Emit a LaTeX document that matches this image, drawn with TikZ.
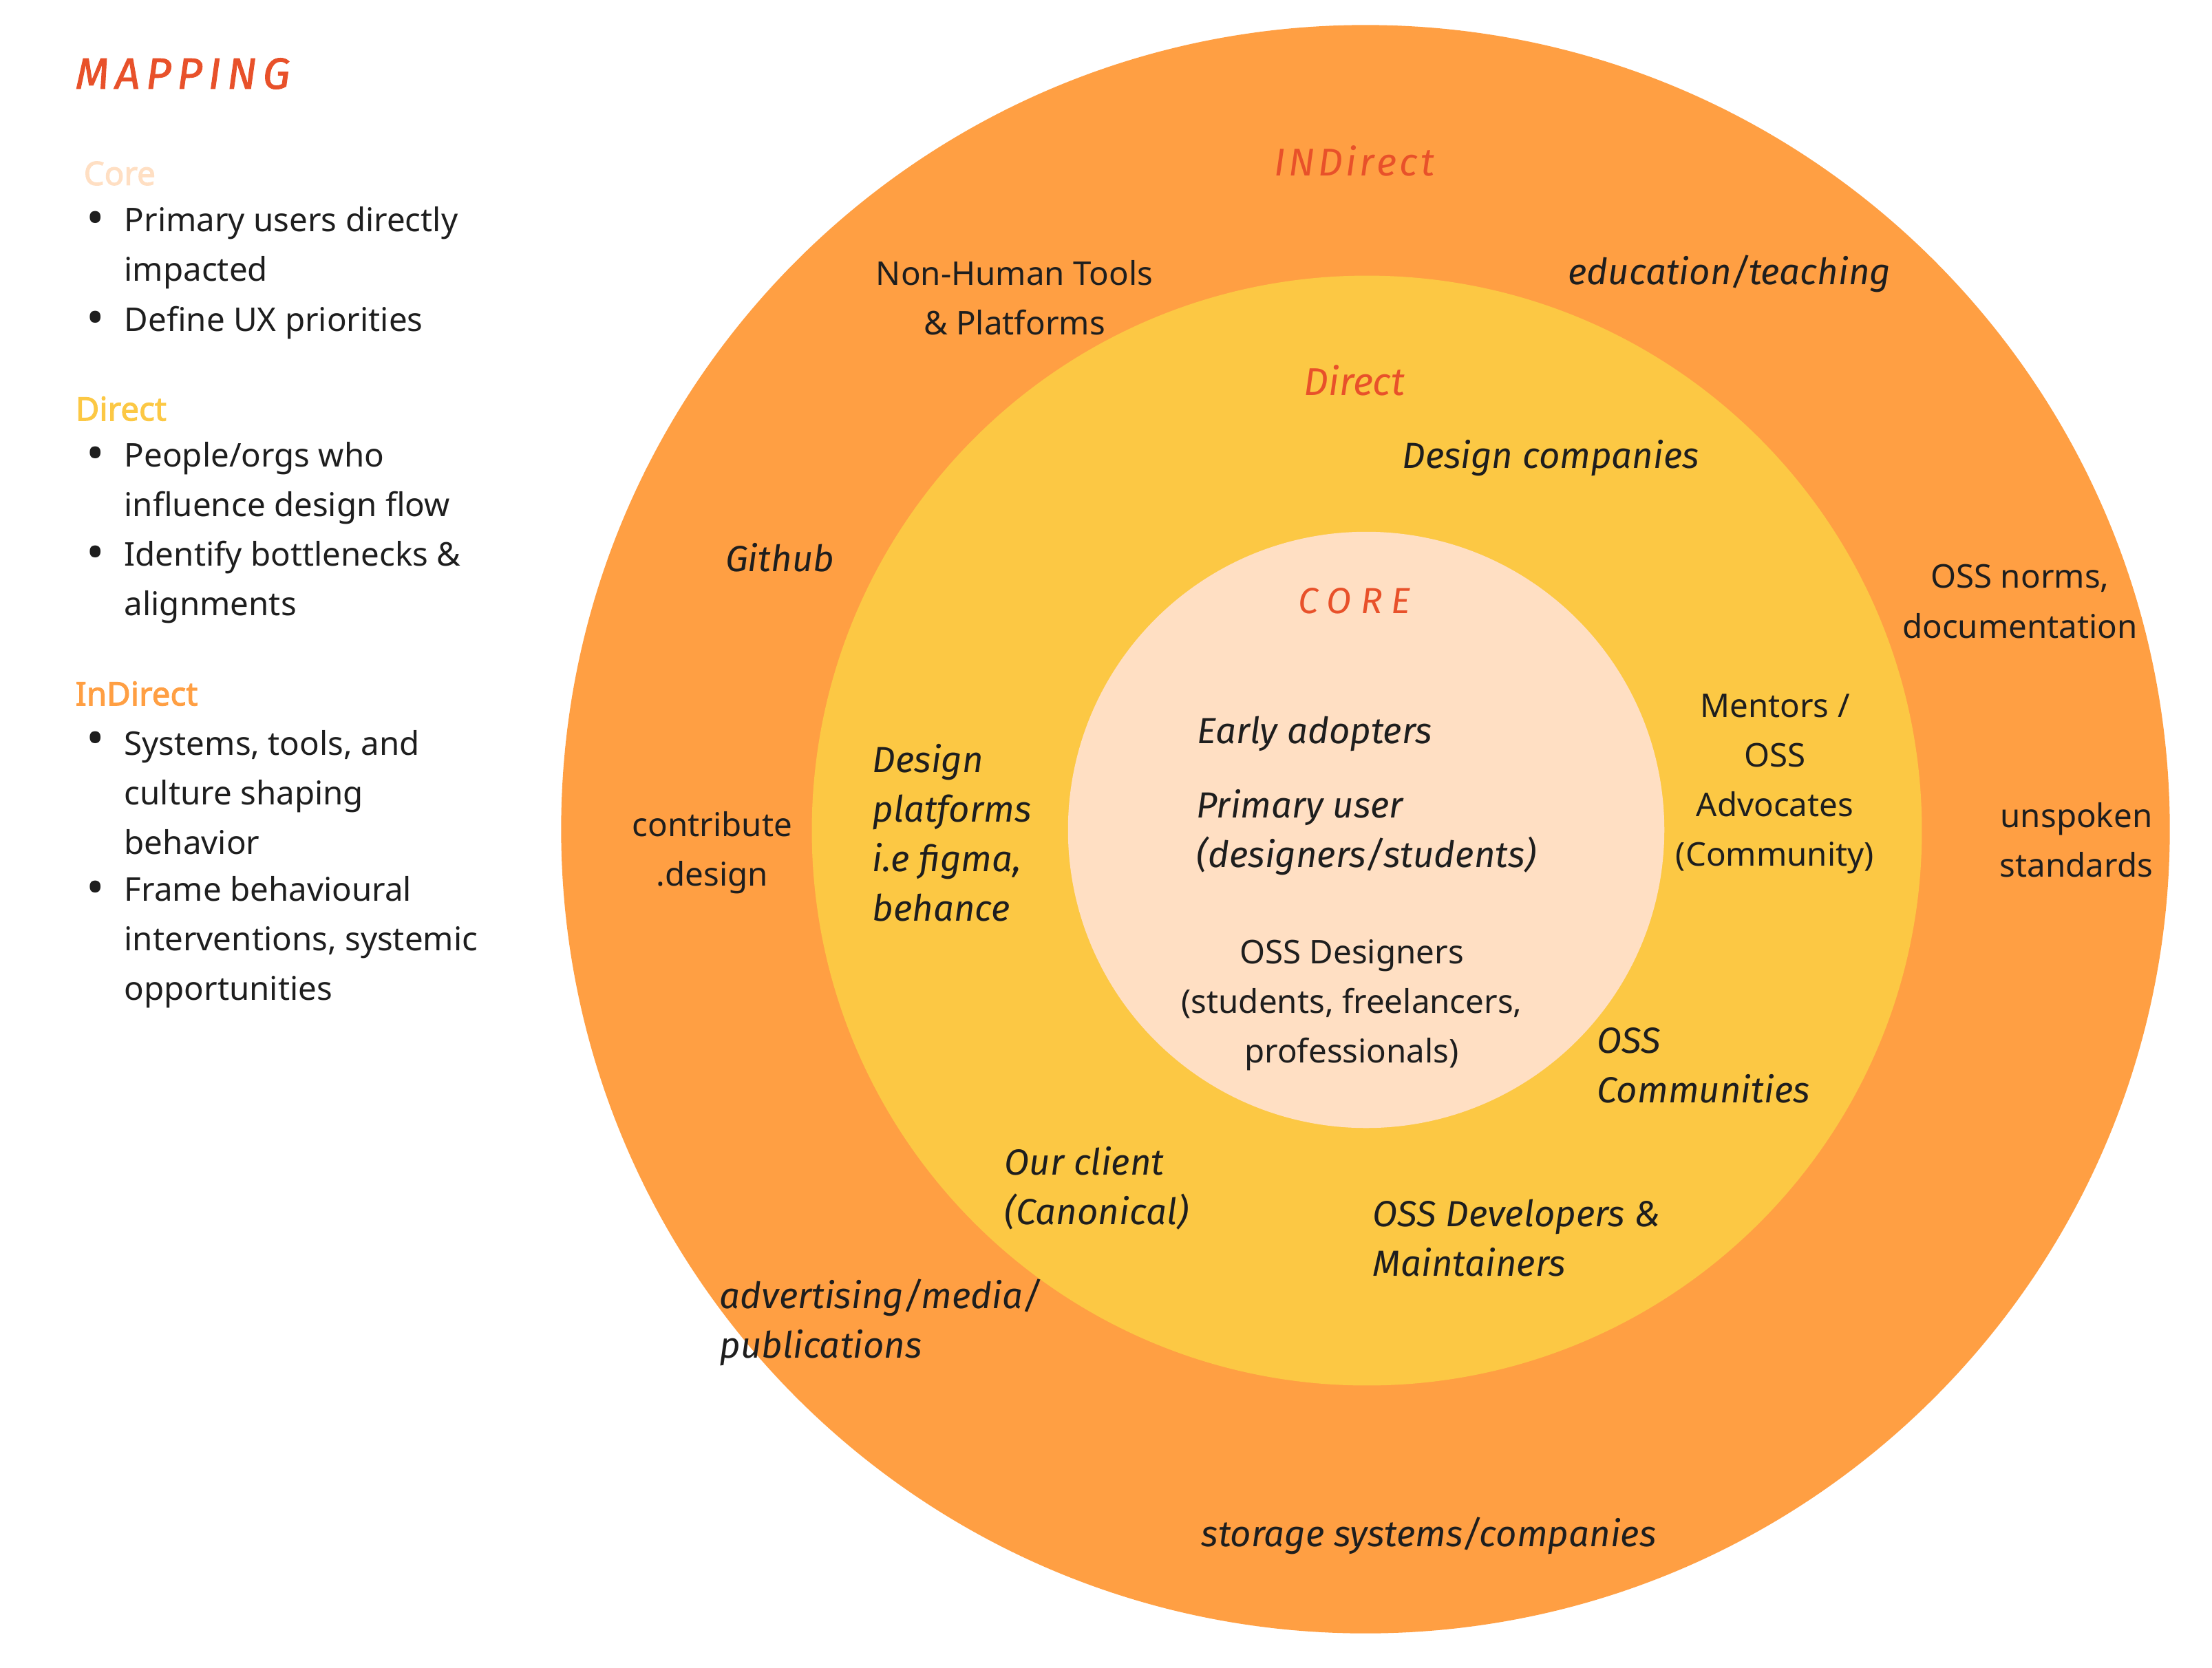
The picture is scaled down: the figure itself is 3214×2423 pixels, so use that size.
\documentclass[tikz,border=0pt]{standalone}
\usepackage{fontspec}
\setmainfont{Noto Sans}
\newfontfamily\headfont{Noto Sans}[FakeBold=2.2]
\newfontfamily\handfont{Fira Sans}
\newfontfamily\titlefont{Fira Sans}[FakeBold=1.5, LetterSpace=14]
\definecolor{outerc}{HTML}{FF9F43}
\definecolor{midc}{HTML}{FCC844}
\definecolor{corec}{HTML}{FFDFC3}
\definecolor{redc}{HTML}{E8512A}
\definecolor{ink}{HTML}{1E1E1E}
\begin{document}
\begin{tikzpicture}[x=0.01cm,y=-0.01cm,
  body/.style={font=\fontsize{13.5}{20.5}\selectfont, text=ink, inner sep=0pt},
  head/.style={font=\headfont\fontsize{13.5}{20.5}\selectfont, inner sep=0pt, anchor=west},
  dot/.style={font=\fontsize{20}{20.5}\selectfont, text=ink, inner sep=0pt},
  hw/.style={font=\handfont\itshape\fontsize{15}{20.5}\selectfont, text=ink, inner sep=0pt},
  redhw/.style={font=\handfont\itshape\fontsize{16}{20}\selectfont, text=redc, inner sep=0pt}]
\useasboundingbox[fill=white] (0,0) rectangle (3214,2423);
% rings
\fill[outerc] (1984,1205) circle[radius=11.68cm];
\fill[midc] (1986,1207) circle[radius=8.06cm];
\fill[corec] (1985,1206) circle[radius=4.33cm];
% legend
\node[font=\titlefont\itshape\fontsize{18}{20}\selectfont, text=redc, inner sep=0pt, anchor=west] (title) at (109,107) {MAPPING};
\node[head, text=corec] (hcore) at (121,252) {Core};
\node[dot] (b1) at (139,324) {\textbullet};
\node[body, anchor=west, align=left] (t1) at (180,360) {Primary users directly\\impacted};
\node[dot] (b2) at (139,469) {\textbullet};
\node[body, anchor=west, align=left] (t2) at (180,469) {Define UX priorities};
\node[head, text=midc] (hdirect) at (109,594) {Direct};
\node[dot] (b3) at (139,666) {\textbullet};
\node[body, anchor=west, align=left] (t3) at (180,702) {People/orgs who\\influence design flow};
\node[dot] (b4) at (139,810) {\textbullet};
\node[body, anchor=west, align=left] (t4) at (180,846) {Identify bottlenecks \&\\alignments};
\node[head, text=outerc] (hind) at (109,1008) {InDirect};
\node[dot] (b5) at (139,1080) {\textbullet};
\node[body, anchor=west, align=left] (t5) at (180,1152) {Systems, tools, and\\culture shaping\\behavior};
\node[dot] (b6) at (139,1297) {\textbullet};
\node[body, anchor=west, align=left] (t6) at (180,1369) {Frame behavioural\\interventions, systemic\\opportunities};
% ring titles
\node[redhw, font=\handfont\itshape\fontsize{16}{20}\selectfont\addfontfeatures{LetterSpace=8}] (lind) at (1968,234) {INDirect};
\node[redhw] (ldir) at (1968,553) {Direct};
\node[redhw, font=\handfont\itshape\fontsize{15}{20}\selectfont\addfontfeatures{LetterSpace=25}] (lcore) at (1968,873) {CORE};
% indirect ring labels
\node[body, align=center] (nonhuman) at (1474,433) {Non-Human Tools\\\& Platforms};
\node[hw] (edu) at (2513,398) {education/teaching};
\node[hw] (github) at (1133,810) {Github};
\node[body, align=center] (norms) at (2935,874) {OSS norms,\\documentation};
\node[body, align=center] (unspoken) at (3017,1221) {unspoken\\standards};
\node[body, align=center] (contrib) at (1035,1239) {contribute\\.design};
\node[hw, anchor=west, align=left] (advert) at (1045,1922) {advertising/media/\\publications};
\node[hw] (storage) at (2076,2232) {storage systems/companies};
% direct ring labels
\node[hw] (designco) at (2253,666) {Design companies};
\node[hw, anchor=west, align=left] (platforms) at (1267,1210) {Design\\platforms\\i.e figma,\\behance};
\node[body, align=center] (mentors) at (2579,1139) {Mentors /\\OSS\\Advocates\\(Community)};
\node[hw, anchor=west, align=left] (osscomm) at (2320,1548) {OSS\\Communities};
\node[hw, anchor=west, align=left] (client) at (1459,1727) {Our client\\(Canonical)};
\node[hw, anchor=west, align=left] (ossdev) at (1994,1799) {OSS Developers \&\\Maintainers};
% core labels
\node[hw] (early) at (1910,1066) {Early adopters};
\node[hw, anchor=west, align=left] (primary) at (1738,1210) {Primary user\\(designers/students)};
\node[body, align=center] (ossdes) at (1964,1461) {OSS Designers\\(students, freelancers,\\professionals)};
\end{tikzpicture}
\end{document}
